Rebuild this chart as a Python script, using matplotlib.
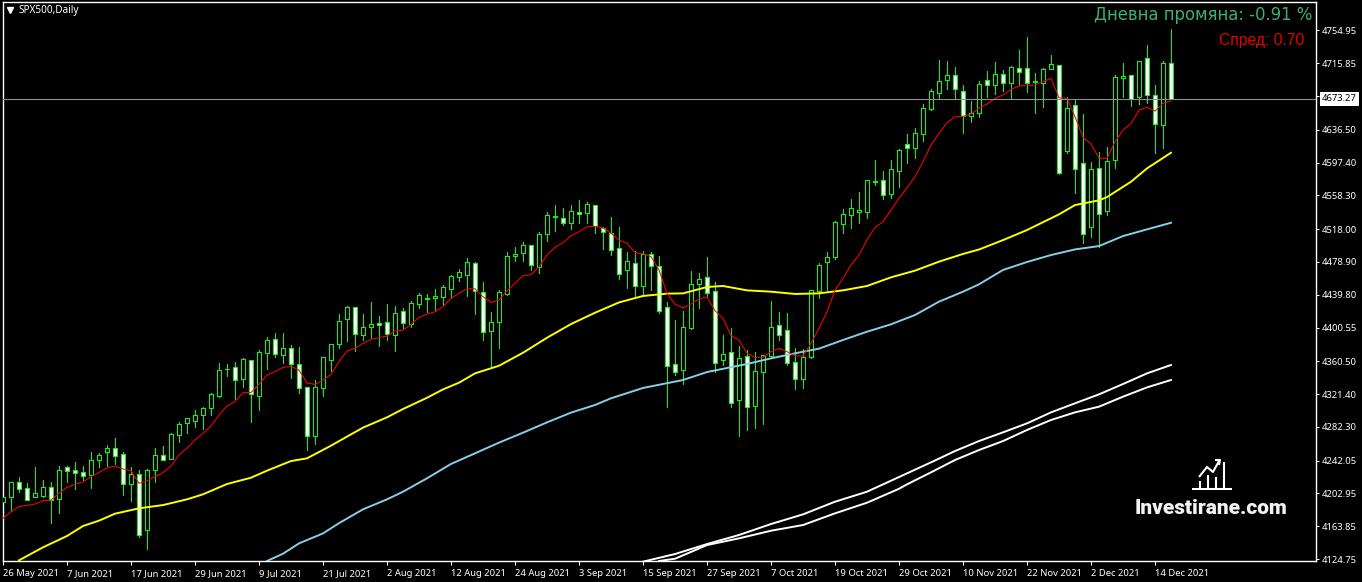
import matplotlib
matplotlib.use('Agg')
import matplotlib.pyplot as plt
from matplotlib.lines import Line2D

# Daily candles, bar 0 = 26 May 2021
opens = [4193.1, 4199.1, 4216.2, 4209.0, 4199.1, 4200.3, 4210.2, 4195.9, 4234.1, 4230.5,
         4228.1, 4225.3, 4242.4, 4252.7, 4256.7, 4249.6, 4214.6, 4225.7, 4158.9, 4230.5,
         4248.4, 4243.6, 4272.2, 4287.3, 4288.9, 4296.0, 4304.4, 4319.1, 4350.9, 4353.3,
         4338.9, 4361.6, 4319.5, 4370.7, 4386.6, 4368.4, 4375.9, 4356.8, 4329.4, 4271.0,
         4328.2, 4362.4, 4380.7, 4411.3, 4424.8, 4391.4, 4401.0, 4405.7, 4406.9, 4391.4,
         4420.0, 4404.5, 4428.4, 4435.1, 4435.5, 4436.7, 4446.2, 4460.6, 4462.9, 4477.2,
         4442.7, 4396.2, 4406.9, 4440.3, 4485.6, 4489.2, 4498.7, 4472.9, 4511.8, 4532.1,
         4530.9, 4524.9, 4538.0, 4536.9, 4546.4, 4519.8, 4513.0, 4495.1, 4468.9, 4477.2,
         4449.8, 4488.0, 4473.7, 4424.9, 4356.9, 4350.5, 4400.6, 4453.1, 4461.4, 4443.9,
         4362.4, 4372.0, 4314.7, 4366.4, 4307.6, 4348.1, 4367.2, 4403.4, 4397.4, 4359.3,
         4339.8, 4366.0, 4443.9, 4479.3, 4485.3, 4523.8, 4535.4, 4538.9, 4538.9, 4573.9,
         4576.3, 4560.4, 4587.8, 4619.2, 4615.2, 4631.9, 4660.9, 4680.7, 4695.5, 4701.4,
         4682.3, 4653.3, 4656.1, 4695.5, 4689.5, 4702.6, 4692.7, 4709.8, 4709.8, 4693.1,
         4691.9, 4709.4, 4713.3, 4611.6, 4665.6, 4596.5, 4520.9, 4590.5, 4540.0, 4600.0,
         4697.8, 4701.4, 4675.2, 4721.7, 4677.6, 4641.8, 4715.7]
highs = [4209.0, 4216.2, 4222.1, 4215.0, 4234.1, 4219.0, 4216.2, 4235.6, 4235.6, 4240.0,
         4235.6, 4251.9, 4250.8, 4260.3, 4268.6, 4251.9, 4234.1, 4230.9, 4231.7, 4256.7,
         4259.5, 4274.6, 4287.7, 4292.5, 4302.4, 4305.6, 4323.1, 4358.8, 4357.2, 4359.2,
         4364.4, 4361.6, 4373.9, 4389.0, 4394.2, 4394.2, 4379.9, 4377.1, 4329.4, 4338.1,
         4365.2, 4380.7, 4416.4, 4426.4, 4424.8, 4416.8, 4431.1, 4414.4, 4428.7, 4426.4,
         4424.0, 4432.3, 4441.9, 4440.3, 4447.0, 4451.4, 4463.3, 4470.5, 4483.2, 4478.8,
         4454.6, 4419.2, 4445.4, 4490.8, 4496.7, 4502.7, 4499.1, 4514.2, 4538.0, 4546.8,
         4542.8, 4546.8, 4552.8, 4550.0, 4546.4, 4520.2, 4532.1, 4520.2, 4490.4, 4491.6,
         4491.6, 4490.4, 4486.0, 4431.2, 4409.8, 4420.5, 4468.2, 4465.8, 4484.5, 4455.1,
         4391.9, 4399.8, 4378.7, 4374.0, 4371.2, 4368.4, 4432.4, 4419.3, 4417.7, 4376.0,
         4375.2, 4445.5, 4477.3, 4490.8, 4527.4, 4542.1, 4554.0, 4562.4, 4576.7, 4600.5,
         4587.4, 4600.5, 4613.2, 4631.5, 4638.7, 4667.3, 4684.7, 4719.7, 4718.5, 4711.0,
         4689.9, 4670.8, 4694.3, 4706.6, 4717.3, 4707.8, 4712.5, 4731.6, 4746.7, 4704.2,
         4709.8, 4725.7, 4713.3, 4675.2, 4672.8, 4655.3, 4598.1, 4610.0, 4615.9, 4701.4,
         4716.1, 4701.4, 4718.1, 4737.6, 4689.9, 4718.1, 4756.7]
lows = [4185.2, 4182.0, 4205.0, 4194.7, 4199.1, 4199.0, 4168.1, 4180.0, 4217.0, 4208.6,
        4219.0, 4209.8, 4234.9, 4235.6, 4238.0, 4201.1, 4194.3, 4151.4, 4137.1, 4217.0,
        4242.8, 4243.6, 4264.3, 4275.4, 4282.6, 4279.8, 4296.5, 4317.9, 4343.3, 4315.5,
        4329.4, 4288.5, 4302.4, 4350.9, 4366.0, 4358.8, 4340.9, 4322.2, 4254.7, 4261.8,
        4319.1, 4349.3, 4376.7, 4385.0, 4373.1, 4385.8, 4388.6, 4379.1, 4385.8, 4373.1,
        4399.0, 4401.7, 4424.4, 4419.2, 4421.6, 4427.2, 4435.9, 4456.6, 4438.3, 4416.8,
        4385.8, 4352.8, 4376.7, 4440.0, 4480.0, 4480.0, 4469.3, 4466.1, 4503.9, 4515.8,
        4522.6, 4517.8, 4524.9, 4524.9, 4513.0, 4494.3, 4487.2, 4458.6, 4447.8, 4436.3,
        4438.3, 4445.4, 4418.5, 4306.4, 4344.2, 4333.8, 4399.0, 4424.4, 4436.8, 4348.1,
        4356.1, 4306.4, 4271.8, 4279.0, 4281.4, 4285.7, 4366.8, 4385.9, 4355.7, 4327.5,
        4329.1, 4364.8, 4436.4, 4445.5, 4482.1, 4513.1, 4519.9, 4525.8, 4531.0, 4570.7,
        4554.0, 4555.6, 4568.3, 4597.0, 4602.9, 4623.6, 4660.1, 4674.0, 4685.1, 4672.8,
        4632.6, 4645.8, 4652.1, 4675.2, 4679.2, 4683.1, 4674.0, 4689.5, 4681.5, 4656.5,
        4663.7, 4708.6, 4584.2, 4609.2, 4561.1, 4501.5, 4508.6, 4497.1, 4534.9, 4590.9,
        4675.2, 4664.8, 4666.8, 4668.4, 4608.8, 4614.8, 4672.8]
closes = [4198.3, 4216.2, 4207.8, 4194.7, 4203.0, 4210.2, 4194.7, 4230.5, 4230.1, 4227.7,
          4224.1, 4242.4, 4248.4, 4256.7, 4248.0, 4213.8, 4225.7, 4153.0, 4230.5, 4248.4,
          4243.2, 4273.4, 4285.3, 4292.5, 4296.0, 4304.4, 4321.1, 4349.7, 4351.7, 4338.5,
          4362.8, 4321.5, 4371.1, 4385.5, 4369.6, 4375.9, 4356.8, 4328.2, 4271.0, 4329.4,
          4365.2, 4380.7, 4408.1, 4424.8, 4392.6, 4401.0, 4404.5, 4403.3, 4392.6, 4417.6,
          4405.7, 4429.6, 4439.1, 4435.9, 4437.9, 4448.6, 4461.7, 4466.5, 4478.4, 4443.9,
          4395.0, 4406.9, 4442.7, 4485.6, 4488.0, 4498.7, 4474.9, 4511.8, 4534.5, 4533.3,
          4524.9, 4539.3, 4535.7, 4547.6, 4521.4, 4514.2, 4492.8, 4464.1, 4479.6, 4449.8,
          4488.8, 4473.7, 4420.1, 4355.3, 4348.1, 4401.0, 4452.3, 4458.2, 4442.3, 4358.9,
          4368.8, 4310.4, 4364.0, 4305.6, 4348.5, 4367.6, 4401.0, 4391.5, 4358.9, 4339.8,
          4365.2, 4445.1, 4474.9, 4485.3, 4526.2, 4535.8, 4542.9, 4540.5, 4576.3, 4575.1,
          4558.4, 4589.4, 4612.0, 4615.2, 4632.3, 4662.1, 4682.3, 4694.3, 4701.4, 4685.5,
          4653.3, 4656.1, 4690.7, 4689.5, 4702.6, 4691.9, 4711.0, 4705.0, 4691.9, 4694.3,
          4708.6, 4714.5, 4585.3, 4662.1, 4589.3, 4511.8, 4589.3, 4535.7, 4598.9, 4699.0,
          4700.2, 4672.8, 4718.1, 4677.6, 4643.0, 4715.7, 4673.27]

# Fast average, one value per bar
red_ma = [4173.2, 4181.2, 4187.2, 4188.7, 4190.3, 4194.3, 4195.1, 4203.0, 4210.2, 4213.8,
          4216.6, 4222.9, 4228.1, 4233.3, 4235.6, 4232.1, 4230.1, 4215.0, 4218.2, 4222.9,
          4227.7, 4235.6, 4248.8, 4256.7, 4266.7, 4274.6, 4283.3, 4296.5, 4307.2, 4312.4,
          4323.1, 4323.3, 4333.2, 4344.1, 4348.1, 4353.3, 4354.4, 4350.1, 4334.6, 4333.0,
          4338.0, 4344.9, 4360.0, 4372.7, 4375.9, 4381.9, 4386.6, 4388.6, 4390.6, 4396.6,
          4397.7, 4404.5, 4412.9, 4416.8, 4419.6, 4425.6, 4435.5, 4441.5, 4447.0, 4447.0,
          4437.5, 4430.7, 4433.5, 4444.7, 4453.4, 4462.5, 4463.7, 4473.3, 4487.2, 4496.3,
          4501.9, 4510.2, 4515.0, 4521.0, 4521.4, 4519.8, 4513.0, 4505.1, 4501.1, 4490.0,
          4488.8, 4485.3, 4469.4, 4441.5, 4428.8, 4424.0, 4428.8, 4434.8, 4437.2, 4420.9,
          4411.7, 4391.1, 4385.9, 4370.0, 4365.2, 4365.2, 4372.0, 4376.0, 4372.0, 4367.2,
          4366.8, 4381.9, 4399.8, 4419.7, 4445.5, 4459.4, 4475.3, 4487.3, 4505.2, 4519.9,
          4527.0, 4540.9, 4554.8, 4567.3, 4580.6, 4598.5, 4618.3, 4632.2, 4645.0, 4652.1,
          4652.5, 4655.3, 4662.1, 4667.2, 4674.0, 4678.0, 4684.7, 4688.7, 4689.5, 4689.9,
          4693.9, 4697.8, 4674.8, 4674.0, 4652.1, 4627.5, 4619.5, 4602.8, 4602.4, 4622.3,
          4636.2, 4644.2, 4660.1, 4663.3, 4658.9, 4668.0, 4670.8]

# Slower averages change little from bar to bar, so they are read at every few bars
yellow_bars = [2, 5, 8, 10, 12, 14, 17, 20, 23, 25, 28, 31, 33, 36, 38, 41, 43, 45, 48, 50,
               53, 55, 57, 59, 62, 65, 68, 71, 74, 77, 80, 83, 85, 88, 90, 93, 96, 99, 102,
               105, 108, 111, 114, 117, 120, 122, 125, 128, 132, 134, 137, 138, 141, 143, 146]
yellow_ma = [4123.2, 4138.7, 4152.2, 4164.1, 4170.5, 4178.8, 4185.2, 4189.1, 4195.9, 4201.9,
             4214.2, 4221.7, 4230.1, 4241.6, 4244.8, 4259.9, 4270.7, 4281.4, 4293.7, 4303.6,
             4317.0, 4327.0, 4335.0, 4346.1, 4355.2, 4370.7, 4388.6, 4404.9, 4418.4, 4430.7,
             4438.4, 4441.2, 4441.5, 4449.1, 4450.3, 4445.1, 4443.5, 4440.8, 4441.5,
             4445.1, 4450.3, 4460.6, 4468.6, 4479.3, 4488.5, 4493.8, 4505.0, 4517.0, 4535.7,
             4546.8, 4552.4, 4556.3, 4574.6, 4590.5, 4609.2]
blue_bars = [33, 35, 37, 40, 42, 45, 48, 50, 53, 56, 59, 62, 65, 68, 71, 74, 76, 80, 85, 88,
             93, 96, 99, 102, 105, 108, 111, 114, 117, 120, 122, 125, 128, 131, 134, 137,
             140, 143, 146]
blue_ma = [4122.4, 4131.1, 4143.4, 4155.3, 4167.5, 4184.0, 4195.9, 4205.0, 4221.0, 4238.1,
           4250.8, 4263.5, 4275.4, 4287.7, 4299.3, 4308.4, 4316.4, 4328.7, 4338.2, 4347.7,
           4357.3, 4364.0, 4370.0, 4375.6, 4385.9, 4395.8, 4404.6, 4415.7, 4431.6, 4443.5,
           4452.3, 4469.4, 4478.9, 4487.2, 4493.9, 4497.9, 4509.8, 4517.8, 4525.7]
white1_bars = [80, 84, 88, 92, 96, 100, 104, 108, 112, 113, 116, 119, 122, 125, 128, 131, 134, 137, 140, 143, 146]
white1_ma = [4121.6, 4130.7, 4142.6, 4153.4, 4166.5, 4178.0, 4193.1, 4205.0, 4222.5, 4226.9, 4240.0,
             4253.5, 4265.4, 4275.8, 4286.5, 4299.6, 4310.4, 4321.1, 4333.4, 4346.1, 4356.1]
white2_bars = [82, 84, 88, 92, 96, 100, 104, 108, 112, 113, 116, 119, 122, 125, 128, 131, 134, 137, 140, 143, 146]
white2_ma = [4122.4, 4125.1, 4141.4, 4149.4, 4158.5, 4165.3, 4179.2, 4191.9, 4208.5, 4213.8, 4228.1,
             4242.8, 4254.7, 4265.4, 4278.6, 4290.5, 4299.6, 4306.4, 4318.3, 4329.4, 4338.2]

last_price = 4673.27
price_ticks = [4754.95, 4715.85, 4676.75, 4636.50, 4597.40, 4558.30, 4518.00, 4478.90, 4439.80,
               4400.55, 4360.50, 4321.40, 4282.30, 4242.05, 4202.95, 4163.85, 4124.75]
date_labels = ['26 May 2021', '7 Jun 2021', '17 Jun 2021', '29 Jun 2021', '9 Jul 2021', '21 Jul 2021',
               '2 Aug 2021', '12 Aug 2021', '24 Aug 2021', '3 Sep 2021', '15 Sep 2021', '27 Sep 2021',
               '7 Oct 2021', '19 Oct 2021', '29 Oct 2021', '10 Nov 2021', '22 Nov 2021', '2 Dec 2021',
               '14 Dec 2021']

W, H = 1362, 582
AXIS_FONT = 'Noto Sans'
LABEL_SIZE = 6.8

fig = plt.figure(figsize=(W / 100, H / 100), dpi=100, facecolor='black')
ax = fig.add_axes([2.5 / W, (H - 561) / H, (1316 - 2.5) / W, (561 - 2) / H], facecolor='black')

bars = list(range(len(opens)))
ax.vlines(bars, lows, highs, color='#00ff00', linewidth=0.72, antialiased=False, zorder=2)
for i in bars:
    bottom = min(opens[i], closes[i])
    height = abs(opens[i] - closes[i])
    face = 'white' if closes[i] < opens[i] else 'black'
    ax.bar(i, height, bottom=bottom, width=0.5, facecolor=face, edgecolor='#00ff00',
           linewidth=0.72, antialiased=False, zorder=3)

ax.plot(white1_bars, white1_ma, color='white', linewidth=1.4, zorder=4)
ax.plot(white2_bars, white2_ma, color='white', linewidth=1.4, zorder=4)
ax.plot(blue_bars, blue_ma, color='#87ceeb', linewidth=1.4, zorder=4)
ax.plot(yellow_bars, yellow_ma, color='#ffff00', linewidth=1.4, zorder=4)
ax.plot(bars, red_ma, color='#ff0000', linewidth=0.75, zorder=5)

ax.axhline(last_price, color='#8a8f99', linewidth=0.8, zorder=6)

ax.set_xlim(-0.0625, 164.125)
ax.set_ylim(4122.4, 4788.9)

ax.set_xticks(bars[::8])
ax.set_xticklabels(date_labels, ha='left', fontsize=LABEL_SIZE, family=AXIS_FONT, color='white')
ax.set_yticks(price_ticks)
ax.set_yticklabels([f'{p:.2f}' for p in price_ticks], fontsize=LABEL_SIZE, family=AXIS_FONT, color='white')
ax.yaxis.tick_right()
ax.tick_params(axis='x', length=3, width=0.72, color='white', pad=2.5)
ax.tick_params(axis='y', length=2.5, width=0.72, color='white', pad=2)
for side in ax.spines.values():
    side.set_color('white')
    side.set_linewidth(1.0)

# Current price flag on the scale
ax.annotate(f'{last_price:.2f}', xy=(1, last_price), xycoords=('axes fraction', 'data'),
            xytext=(4.3, 0), textcoords='offset points', va='center', ha='left',
            fontsize=LABEL_SIZE, family=AXIS_FONT, color='black', zorder=10, annotation_clip=False,
            bbox=dict(boxstyle='square,pad=0.25', facecolor='white', edgecolor='white', linewidth=0))

fig.text(18 / W, 1 - 10 / H, 'SPX500,Daily', fontsize=7.2, family=AXIS_FONT, color='white', va='center')
fig.add_artist(Line2D([10 / W], [1 - 10 / H], marker='v', markersize=4.5, color='white',
                      linestyle='none', transform=fig.transFigure))

fig.text(1312 / W, 1 - 15 / H, 'Дневна промяна: -0.91 %', fontsize=11.9, family='DejaVu Sans',
         color='#3cae78', ha='right', va='center')
fig.text(1304 / W, 1 - 40 / H, 'Спред: 0.70', fontsize=11.3, family='Liberation Sans',
         color='#e60000', ha='right', va='center')


# Logo, placed in screen pixels
def logo_line(xs, ys, lw=1.5):
    fig.add_artist(Line2D([x / W for x in xs], [1 - y / H for y in ys], color='white', linewidth=lw,
                          transform=fig.transFigure, solid_capstyle='butt', zorder=8))


logo_line([1192, 1232], [489, 489])
for lx, ltop in [(1200, 481), (1208, 475), (1216, 477), (1224, 462)]:
    logo_line([lx, lx], [ltop, 489])
logo_line([1199, 1207, 1213, 1219], [477, 467, 472, 461])
logo_line([1215, 1220, 1219], [460, 460, 465])
fig.text(1211.5 / W, 1 - 509 / H, 'Investirane.com', fontsize=15, family='Roboto', fontweight='black',
         color='#f2f2f2', ha='center', va='center')

fig.savefig('out.png', dpi=100, facecolor='black')
